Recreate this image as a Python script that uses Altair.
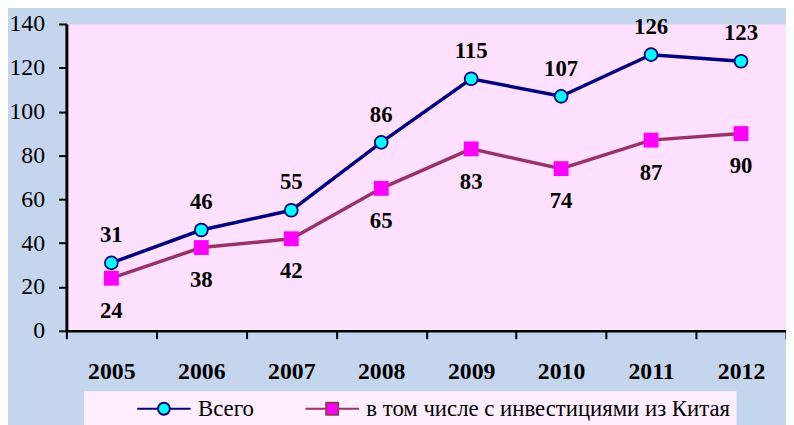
import altair as alt
import pandas as pd

years = ["2005", "2006", "2007", "2008", "2009", "2010", "2011", "2012"]
total = [31, 46, 55, 86, 115, 107, 126, 123]
china = [24, 38, 42, 65, 83, 74, 87, 90]
series_names = ["Всего", "в том числе с инвестициями из Китая"]
y_ticks = [0, 20, 40, 60, 80, 100, 120, 140]

rows = []
for yr, t, c in zip(years, total, china):
    rows.append({"year": yr, "value": t, "series": series_names[0]})
    rows.append({"year": yr, "value": c, "series": series_names[1]})
df = pd.DataFrame(rows)

FONT = "Liberation Serif, Times New Roman, DejaVu Serif, serif"
NAVY = "#000080"
PURPLE = "#993366"
CYAN = "#00FFFF"
MAGENTA = "#FF00FF"

x = alt.X(
    "year:O", sort=years, title=None,
    scale=alt.Scale(type="band", paddingInner=0, paddingOuter=0),
    axis=alt.Axis(labelFont=FONT, labelFontSize=24, labelFontWeight="bold",
                  labelColor="black", labelAngle=0, labelPadding=21,
                  tickBand="extent", tickSize=8, tickWidth=2, tickColor="black",
                  domainColor="black", domainWidth=2.5, grid=False),
)
y = alt.Y(
    "value:Q", title=None,
    scale=alt.Scale(domain=[0, 140], nice=False),
    axis=alt.Axis(values=y_ticks, labelFont=FONT, labelFontSize=24,
                  labelColor="black", labelPadding=14, tickSize=8, tickWidth=2,
                  tickColor="black", domainColor="black", domainWidth=3,
                  grid=False),
)

circle_path = "M-2.7,0H-0.6M0.6,0H2.7M-0.6,0A0.6,0.6,0,1,0,0.6,0A0.6,0.6,0,1,0,-0.6,0Z"
square_path = "M-2.7,0H-0.6M0.6,0H2.7M-0.6,-0.6H0.6V0.6H-0.6Z"
first = series_names[0]

legend = alt.Legend(
    title=None, orient="none", legendX=18, legendY=371, direction="horizontal",
    fillColor="#FFEEFF", padding=6, symbolSize=400, symbolStrokeWidth=2,
    symbolOffset=63, labelOffset=23, labelFont=FONT, labelFontSize=23,
    labelColor="black", labelLimit=600, columnPadding=4,
    labelExpr=f"datum.value === '{first}' ? datum.label : datum.label + '      '",
)

line_total = alt.Chart(df).transform_filter(
    alt.datum.series == series_names[0]
).mark_line(strokeWidth=3.5, color=NAVY).encode(x=x, y=y)

line_china = alt.Chart(df).transform_filter(
    alt.datum.series == series_names[1]
).mark_line(strokeWidth=3.5, color=PURPLE).encode(x=x, y=y)

legend_layer = alt.Chart(df).transform_filter("false").mark_point(
    size=400, strokeWidth=2, opacity=1
).encode(
    x=x, y=y,
    shape=alt.Shape("series:N", scale=alt.Scale(domain=series_names, range=[circle_path, square_path]), legend=legend),
    fill=alt.Fill("series:N", scale=alt.Scale(domain=series_names, range=[CYAN, MAGENTA]), legend=legend),
    stroke=alt.Stroke("series:N", scale=alt.Scale(domain=series_names, range=[NAVY, PURPLE]), legend=legend),
)

pts_total = alt.Chart(df).transform_filter(
    alt.datum.series == series_names[0]
).mark_point(shape="circle", filled=False, fill=CYAN, stroke=NAVY, strokeWidth=1.8,
             size=169, opacity=1).encode(x=x, y=y)

pts_china = alt.Chart(df).transform_filter(
    alt.datum.series == series_names[1]
).mark_point(shape="square", filled=True, color=MAGENTA, size=225, opacity=1).encode(x=x, y=y)

lbl_total = alt.Chart(df).transform_filter(
    alt.datum.series == series_names[0]
).mark_text(font=FONT, fontSize=23, fontWeight="bold", dy=-28, baseline="middle",
            color="black").encode(x=x, y=y, text="value:Q")

lbl_china = alt.Chart(df).transform_filter(
    alt.datum.series == series_names[1]
).mark_text(font=FONT, fontSize=23, fontWeight="bold", dy=33, baseline="middle",
            color="black").encode(x=x, y=y, text="value:Q")

chart = alt.layer(line_total, line_china, legend_layer, pts_total, pts_china,
                  lbl_total, lbl_china).properties(
    width=727, height=310,
    padding={"left": 59, "top": 14, "right": 0, "bottom": 93},
    autosize=alt.AutoSizeParams(type="none"),
    background="#C6D5EE",
).configure_view(fill="#FFE0FF", stroke="transparent")

chart.save("out.html", embed_options={"renderer": "svg", "actions": False})
